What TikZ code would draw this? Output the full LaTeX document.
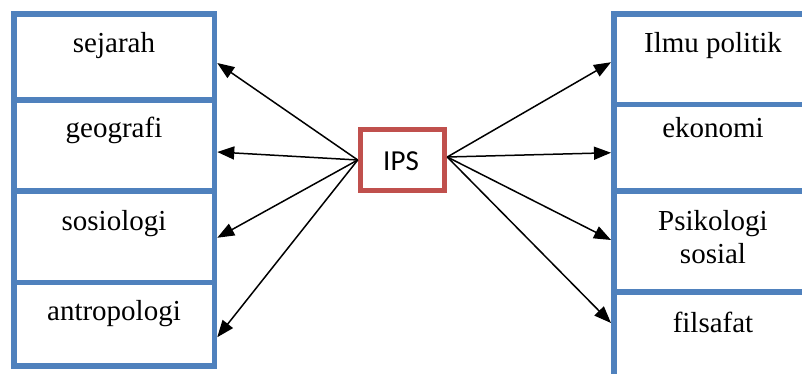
\documentclass[tikz,border=0pt]{standalone}
\usepackage{fontspec}
\setmainfont{Liberation Serif}
\newfontfamily\ipsfont{Carlito}
\usetikzlibrary{arrows.meta}
\definecolor{boxblue}{HTML}{4F81BD}
\definecolor{boxred}{HTML}{C0504D}
\tikzset{
  sbox/.style={draw=boxblue, line width=5.5pt, minimum width=200.5pt, inner sep=0pt},
  ipsbox/.style={draw=boxred, line width=5.5pt, minimum width=84pt, minimum height=61pt, inner sep=0pt},
  txt/.style={anchor=base, inner sep=0pt, font=\rmfamily\fontsize{29}{33}\selectfont, align=center},
  arr/.style={line width=1.5pt, -{Triangle[length=17pt,width=13pt]}}
}
\begin{document}
\begin{tikzpicture}[x=1pt,y=-1pt]
\useasboundingbox (0,0) rectangle (802,374);
\clip (0,0) rectangle (802,374);
% left boxes
\node[sbox, minimum height=86pt] (sej) at (114.25,57) {};
\node[sbox, minimum height=91pt] (geo) at (114.25,145.5) {};
\node[sbox, minimum height=91.5pt] (sos) at (114.25,236.75) {};
\node[sbox, minimum height=83.5pt] (ant) at (114.25,324.25) {};
% right boxes
\node[sbox, minimum height=90.5pt] (ilm) at (714,59.25) {};
\node[sbox, minimum height=86.5pt] (eko) at (714,147.75) {};
\node[sbox, minimum height=101pt] (psi) at (714,241.5) {};
\node[sbox, minimum height=108pt] (fil) at (714,346) {};
% texts
\node[txt] (tsej) at (114,53) {sejarah};
\node[txt] (tgeo) at (114,138) {geografi};
\node[txt] (tsos) at (114,230) {sosiologi};
\node[txt] (tant) at (114,320) {antropologi};
\node[txt] (tilm) at (713,53) {Ilmu politik};
\node[txt] (teko) at (713,138) {ekonomi};
\node[txt] (tpsi) at (713,230) {Psikologi};
\node[txt] (tsosial) at (713,263) {sosial};
\node[txt] (tfil) at (713,332) {filsafat};
% IPS
\node[ipsbox] (ips) at (402.5,160) {};
\node[anchor=base, inner sep=0pt, font=\ipsfont\fontsize{29}{33}\selectfont] (tips) at (401,171) {IPS};
% arrows
\draw[arr] (ips.west) -- ([yshift=-6pt]sej.east);
\draw[arr] (ips.west) -- ([yshift=-6.5pt]geo.east);
\draw[arr] (ips.west) -- ([yshift=-1pt]sos.east);
\draw[arr] (ips.west) -- ([yshift=-13pt]ant.east);
\draw[arr] ([yshift=3pt]ips.east) -- ([yshift=-3pt]ilm.west);
\draw[arr] ([yshift=3pt]ips.east) -- ([yshift=-5pt]eko.west);
\draw[arr] ([yshift=3pt]ips.east) -- ([yshift=1.5pt]psi.west);
\draw[arr] ([yshift=3pt]ips.east) -- ([yshift=23pt]fil.west);
\end{tikzpicture}
\end{document}
